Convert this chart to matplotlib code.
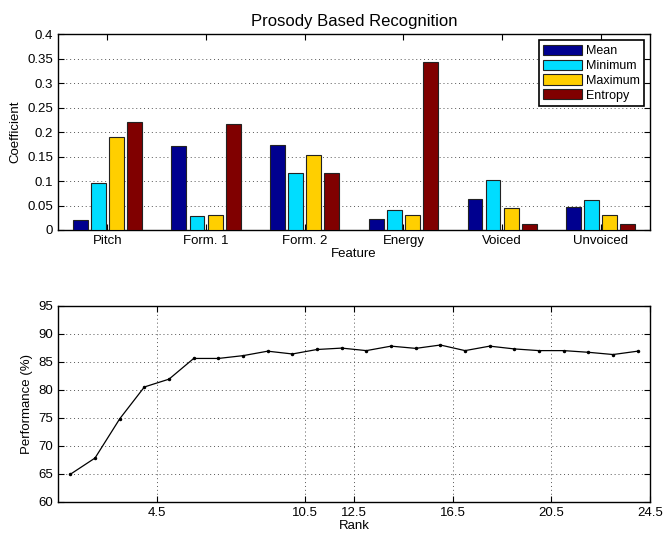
import numpy as np
import matplotlib
matplotlib.use("Agg")
import matplotlib.pyplot as plt

plt.rcParams['font.family'] = ['Liberation Sans', 'DejaVu Sans']

features = ["Pitch", "Form. 1", "Form. 2", "Energy", "Voiced", "Unvoiced"]
series_names = ["Mean", "Minimum", "Maximum", "Entropy"]
mean_vals = [0.020, 0.171, 0.173, 0.023, 0.063, 0.047]
min_vals = [0.095, 0.029, 0.116, 0.040, 0.103, 0.061]
max_vals = [0.190, 0.031, 0.153, 0.030, 0.045, 0.030]
entropy_vals = [0.220, 0.217, 0.117, 0.343, 0.012, 0.012]
colors = ["#00008F", "#00DDFF", "#FFCF00", "#800000"]

rank = list(range(1, 25))
performance = [64.9, 67.8, 74.8, 80.5, 81.9, 85.6, 85.6, 86.1, 86.9, 86.4,
               87.2, 87.45, 87.0, 87.8, 87.4, 88.0, 87.0, 87.8, 87.3, 87.0,
               87.0, 86.7, 86.3, 86.9]
rank_ticks = [4.5, 10.5, 12.5, 16.5, 20.5, 24.5]


def style_axes(ax):
    for s in ax.spines.values():
        s.set_linewidth(1.0)
    ax.tick_params(direction="in", top=True, right=True, labelsize=9.5,
                   length=4, width=0.8)


fig = plt.figure(figsize=(6.63, 5.38), dpi=100)

# top: grouped bars
ax1 = fig.add_axes([0.0875, 0.5725, 0.893, 0.364])
x = np.arange(1, len(features) + 1)
offsets = [-0.275, -0.092, 0.092, 0.275]
all_vals = [mean_vals, min_vals, max_vals, entropy_vals]
for vals, off, col, name in zip(all_vals, offsets, colors, series_names):
    ax1.bar(x + off, vals, width=0.15, color=col, edgecolor="#222222",
            linewidth=0.8, label=name, zorder=3)
ax1.set_xlim(0.5, 6.5)
ax1.set_ylim(0, 0.4)
ax1.set_xticks(x)
ax1.set_xticklabels(features)
ax1.set_yticks(np.arange(0, 0.41, 0.05))
ax1.set_yticklabels(["0", "0.05", "0.1", "0.15", "0.2", "0.25", "0.3", "0.35", "0.4"])
ax1.yaxis.grid(True, linestyle=(0, (1, 3)), color="#555555", linewidth=0.7)
ax1.set_axisbelow(True)
style_axes(ax1)
ax1.set_title("Prosody Based Recognition", fontsize=12, pad=6)
ax1.set_xlabel("Feature", fontsize=9.5, labelpad=1)
ax1.set_ylabel("Coefficient", fontsize=9.5, labelpad=4)
leg = ax1.legend(loc="upper right", fontsize=9, fancybox=False, framealpha=1,
                 edgecolor="black", borderaxespad=0.5, handlelength=3.1,
                 handleheight=0.9, handletextpad=0.3, labelspacing=0.18,
                 borderpad=0.35)
leg.get_frame().set_linewidth(1.2)

# bottom: performance vs rank
ax2 = fig.add_axes([0.0875, 0.0675, 0.893, 0.364])
ax2.plot(rank, performance, color="black", linewidth=0.9, marker=".",
         markersize=3, zorder=3)
ax2.set_xlim(0.5, 24.5)
ax2.set_ylim(60, 95)
ax2.set_xticks(rank_ticks)
ax2.set_xticklabels([str(t) for t in rank_ticks])
ax2.set_yticks(range(60, 96, 5))
ax2.grid(True, linestyle=(0, (1, 3)), color="#555555", linewidth=0.7)
style_axes(ax2)
ax2.set_xlabel("Rank", fontsize=9.5, labelpad=1)
ax2.set_ylabel("Performance (%)", fontsize=9.5, labelpad=4)

fig.savefig("out.png", dpi=100)
